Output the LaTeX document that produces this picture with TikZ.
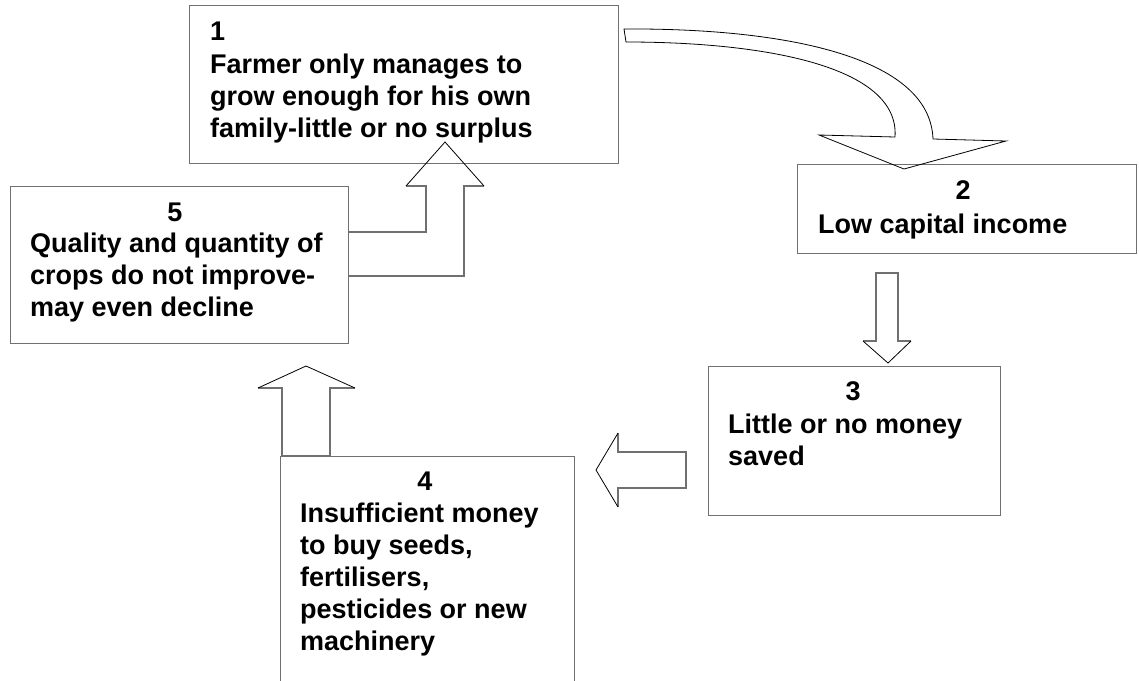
\documentclass[tikz,border=0pt]{standalone}
\usepackage{fontspec}
\setmainfont{Liberation Sans}
\definecolor{boxgray}{RGB}{112,112,112}
\begin{document}
\begin{tikzpicture}[x=1pt,y=-1pt,
  box/.style={draw=boxgray, line width=1.3pt, inner sep=0pt, anchor=north west},
  shaft/.style={draw=boxgray, line width=1.3pt, line join=miter},
  head/.style={draw=black, line width=0.8pt, line join=miter},
  curved/.style={draw=black, line width=0.8pt, line join=miter},
  num/.style={font=\bfseries\fontsize{27}{32}\selectfont, anchor=base, inner sep=0pt},
  txt/.style={font=\bfseries\fontsize{27}{32}\selectfont, anchor=base west, inner sep=0pt}]
\useasboundingbox (0,0) rectangle (1139,680);
\clip (0,0) rectangle (1139,680);

% boxes of the cycle
\node[box, minimum width=429pt, minimum height=158pt] (b1) at (189,5) {};
\node[box, minimum width=339pt, minimum height=89pt]  (b2) at (797,164) {};
\node[box, minimum width=292pt, minimum height=149pt] (b3) at (708,366) {};
\node[box, minimum width=294pt, minimum height=250pt] (b4) at (280,456) {};
\node[box, minimum width=338pt, minimum height=157pt] (b5) at (10,186) {};

% step numbers
\node[num, anchor=base west] (n1) at (210,40) {1};
\node[num] (n2) at (963,199) {2};
\node[num] (n3) at (853,400) {3};
\node[num] (n4) at (425,490) {4};
\node[num] (n5) at (175,221) {5};

% step texts
\node[txt] (t1) at (210,73) {\begin{tabular}[t]{@{}l@{}}Farmer only manages to\\grow enough for his own\\family-little or no surplus\end{tabular}};
\node[txt] (t2) at (818,233) {\begin{tabular}[t]{@{}l@{}}Low capital income\end{tabular}};
\node[txt] (t3) at (728,433) {\begin{tabular}[t]{@{}l@{}}Little or no money\\saved\end{tabular}};
\node[txt] (t4) at (300,522) {\begin{tabular}[t]{@{}l@{}}Insufficient money\\to buy seeds,\\fertilisers,\\pesticides or new\\machinery\end{tabular}};
\node[txt] (t5) at (30,252) {\begin{tabular}[t]{@{}l@{}}Quality and quantity of\\crops do not improve-\\may even decline\end{tabular}};

% curved arrow 1 -> 2
\coordinate (c0) at (624,29);
\coordinate (c1) at (626,42);
\coordinate (tipA) at (904,169);
\path[curved] (c0) .. controls (780,28) and (930,55) .. (933,139)
  -- (1006,141) -- (tipA) -- (819,135) -- (895,137)
  .. controls (900,65) and (760,42) .. (c1) -- cycle;

% straight arrow 2 -> 3
\coordinate (tipB) at (888,363);
\path[shaft] (863,341) -- (876,341) -- (876,273) -- (898,273) -- (898,341) -- (911,341);
\path[head] (863,341) -- (tipB) -- (911,341);

% arrow 3 -> 4
\coordinate (tipC) at (596,470);
\path[shaft] (618,433) -- (618,452) -- (686,452) -- (686,488) -- (618,488) -- (618,507);
\path[head] (618,433) -- (tipC) -- (618,507);

% arrow 4 -> 5
\coordinate (tipD) at (306,366);
\path[shaft] (258,388) -- (282,388) -- (282,456) -- (330,456) -- (330,388) -- (355,388);
\path[head] (258,388) -- (tipD) -- (355,388);

% bent arrow 5 -> 1
\coordinate (tipE) at (445,142);
\path[shaft] (406,186) -- (426,186) -- (426,232) -- (b5.east |- 0,232);
\path[shaft] (b5.east |- 0,276) -- (464,276) -- (464,186) -- (484,186);
\path[head] (406,186) -- (tipE) -- (484,186);
\end{tikzpicture}
\end{document}
